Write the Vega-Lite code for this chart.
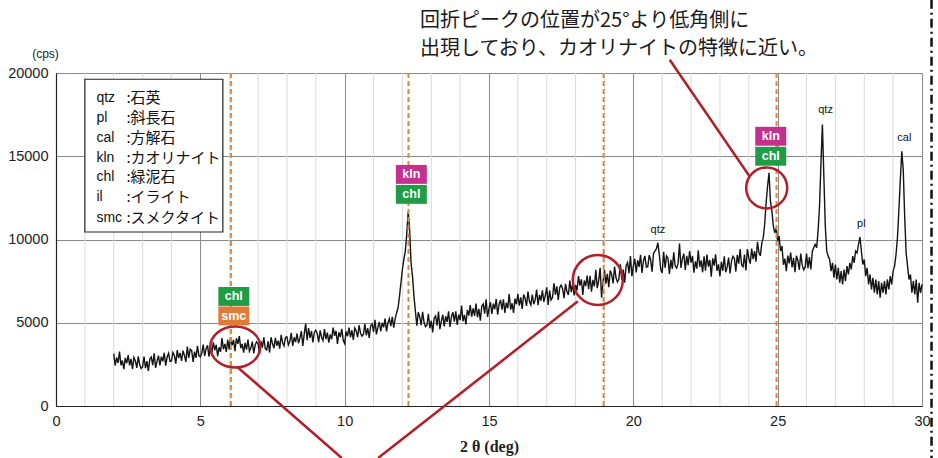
{
"$schema": "https://vega.github.io/schema/vega-lite/v6.json",
"width": 866, "height": 333,
"autosize": {"type": "none"},
"padding": {"left": 56, "top": 73, "right": 16, "bottom": 52},
"background": "white",
"config": {"view": {"stroke": "#777", "strokeWidth": 1}, "font": "Liberation Sans"},
"datasets": {
"xrd": [
{"deg":2.00,"cps":3150},{"deg":2.05,"cps":2430},{"deg":2.10,"cps":2910},{"deg":2.15,"cps":2590},{"deg":2.20,"cps":3270},{"deg":2.25,"cps":2450},{"deg":2.30,"cps":2730},{"deg":2.35,"cps":2210},{"deg":2.40,"cps":2890},{"deg":2.45,"cps":2570},
{"deg":2.50,"cps":3050},{"deg":2.55,"cps":2440},{"deg":2.60,"cps":2830},{"deg":2.65,"cps":2220},{"deg":2.70,"cps":2910},{"deg":2.75,"cps":2700},{"deg":2.80,"cps":2290},{"deg":2.85,"cps":2980},{"deg":2.90,"cps":2470},{"deg":2.95,"cps":2260},
{"deg":3.00,"cps":2350},{"deg":3.05,"cps":2965},{"deg":3.10,"cps":2280},{"deg":3.15,"cps":2695},{"deg":3.20,"cps":2110},{"deg":3.25,"cps":2825},{"deg":3.30,"cps":2940},{"deg":3.35,"cps":2455},{"deg":3.40,"cps":3170},{"deg":3.45,"cps":2285},
{"deg":3.50,"cps":2700},{"deg":3.55,"cps":3020},{"deg":3.60,"cps":2440},{"deg":3.65,"cps":2960},{"deg":3.70,"cps":2680},{"deg":3.75,"cps":3200},{"deg":3.80,"cps":2420},{"deg":3.85,"cps":2940},{"deg":3.90,"cps":3160},{"deg":3.95,"cps":2680},
{"deg":4.00,"cps":2700},{"deg":4.05,"cps":3215},{"deg":4.10,"cps":3030},{"deg":4.15,"cps":2545},{"deg":4.20,"cps":3360},{"deg":4.25,"cps":2875},{"deg":4.30,"cps":3190},{"deg":4.35,"cps":2705},{"deg":4.40,"cps":3320},{"deg":4.45,"cps":3035},
{"deg":4.50,"cps":2650},{"deg":4.55,"cps":3570},{"deg":4.60,"cps":2890},{"deg":4.65,"cps":3410},{"deg":4.70,"cps":3330},{"deg":4.75,"cps":2650},{"deg":4.80,"cps":3270},{"deg":4.85,"cps":2890},{"deg":4.90,"cps":3610},{"deg":4.95,"cps":3030},
{"deg":5.00,"cps":2950},{"deg":5.05,"cps":3170},{"deg":5.10,"cps":3690},{"deg":5.15,"cps":3010},{"deg":5.20,"cps":3430},{"deg":5.25,"cps":3650},{"deg":5.30,"cps":2970},{"deg":5.35,"cps":3590},{"deg":5.40,"cps":3210},{"deg":5.45,"cps":3830},
{"deg":5.50,"cps":3350},{"deg":5.55,"cps":3675},{"deg":5.60,"cps":3000},{"deg":5.65,"cps":3525},{"deg":5.70,"cps":3250},{"deg":5.75,"cps":4075},{"deg":5.80,"cps":3400},{"deg":5.85,"cps":3725},{"deg":5.90,"cps":3250},{"deg":5.95,"cps":3975},
{"deg":6.00,"cps":3400},{"deg":6.05,"cps":4125},{"deg":6.10,"cps":3650},{"deg":6.15,"cps":3975},{"deg":6.20,"cps":3300},{"deg":6.25,"cps":4067},{"deg":6.30,"cps":3733},{"deg":6.35,"cps":4200},{"deg":6.40,"cps":3467},{"deg":6.45,"cps":3733},
{"deg":6.50,"cps":3200},{"deg":6.55,"cps":3795},{"deg":6.60,"cps":3390},{"deg":6.65,"cps":3985},{"deg":6.70,"cps":3280},{"deg":6.75,"cps":3475},{"deg":6.80,"cps":3870},{"deg":6.85,"cps":3165},{"deg":6.90,"cps":3660},{"deg":6.95,"cps":3855},
{"deg":7.00,"cps":3750},{"deg":7.05,"cps":3170},{"deg":7.10,"cps":3890},{"deg":7.15,"cps":3510},{"deg":7.20,"cps":4130},{"deg":7.25,"cps":3450},{"deg":7.30,"cps":3370},{"deg":7.35,"cps":3890},{"deg":7.40,"cps":3210},{"deg":7.45,"cps":4130},
{"deg":7.50,"cps":3750},{"deg":7.55,"cps":3470},{"deg":7.60,"cps":4090},{"deg":7.65,"cps":3610},{"deg":7.70,"cps":3930},{"deg":7.75,"cps":3450},{"deg":7.80,"cps":4270},{"deg":7.85,"cps":3790},{"deg":7.90,"cps":3610},{"deg":7.95,"cps":4130},
{"deg":8.00,"cps":4150},{"deg":8.05,"cps":3665},{"deg":8.10,"cps":3880},{"deg":8.15,"cps":4395},{"deg":8.20,"cps":3610},{"deg":8.25,"cps":4125},{"deg":8.30,"cps":3840},{"deg":8.35,"cps":4355},{"deg":8.40,"cps":3770},{"deg":8.45,"cps":4085},
{"deg":8.50,"cps":4500},{"deg":8.55,"cps":3615},{"deg":8.60,"cps":4330},{"deg":8.65,"cps":4950},{"deg":8.70,"cps":3960},{"deg":8.75,"cps":4675},{"deg":8.80,"cps":4090},{"deg":8.85,"cps":4505},{"deg":8.90,"cps":3820},{"deg":8.95,"cps":4435},
{"deg":9.00,"cps":4550},{"deg":9.05,"cps":4345},{"deg":9.10,"cps":3840},{"deg":9.15,"cps":4535},{"deg":9.20,"cps":4130},{"deg":9.25,"cps":3925},{"deg":9.30,"cps":4620},{"deg":9.35,"cps":4015},{"deg":9.40,"cps":4410},{"deg":9.45,"cps":3805},
{"deg":9.50,"cps":4300},{"deg":9.55,"cps":4005},{"deg":9.60,"cps":4710},{"deg":9.65,"cps":4215},{"deg":9.70,"cps":4520},{"deg":9.75,"cps":3725},{"deg":9.80,"cps":4430},{"deg":9.85,"cps":4135},{"deg":9.90,"cps":4640},{"deg":9.95,"cps":3945},
{"deg":10.00,"cps":3750},{"deg":10.05,"cps":4470},{"deg":10.10,"cps":4190},{"deg":10.15,"cps":4710},{"deg":10.20,"cps":4130},{"deg":10.25,"cps":4550},{"deg":10.30,"cps":3970},{"deg":10.35,"cps":4690},{"deg":10.40,"cps":4510},{"deg":10.45,"cps":4130},
{"deg":10.50,"cps":4850},{"deg":10.55,"cps":4370},{"deg":10.60,"cps":4190},{"deg":10.65,"cps":4310},{"deg":10.70,"cps":4930},{"deg":10.75,"cps":4250},{"deg":10.80,"cps":4670},{"deg":10.85,"cps":4090},{"deg":10.90,"cps":4810},{"deg":10.95,"cps":4930},
{"deg":11.00,"cps":4450},{"deg":11.05,"cps":5175},{"deg":11.10,"cps":4300},{"deg":11.15,"cps":4725},{"deg":11.20,"cps":5050},{"deg":11.25,"cps":4475},{"deg":11.30,"cps":5000},{"deg":11.35,"cps":4725},{"deg":11.40,"cps":5250},{"deg":11.45,"cps":4475},
{"deg":11.50,"cps":5000},{"deg":11.55,"cps":5250},{"deg":11.60,"cps":4800},{"deg":11.65,"cps":5350},{"deg":11.70,"cps":4700},{"deg":11.75,"cps":5250},{"deg":11.80,"cps":5600},{"deg":11.85,"cps":5900},{"deg":11.90,"cps":6600},{"deg":11.95,"cps":7400},
{"deg":12.00,"cps":8200},{"deg":12.05,"cps":8800},{"deg":12.10,"cps":9300},{"deg":12.15,"cps":10300},{"deg":12.20,"cps":11700},{"deg":12.25,"cps":10600},{"deg":12.30,"cps":8600},{"deg":12.35,"cps":7800},{"deg":12.40,"cps":6600},{"deg":12.45,"cps":5700},
{"deg":12.50,"cps":4820},{"deg":12.55,"cps":5630},{"deg":12.60,"cps":5360},{"deg":12.65,"cps":4850},{"deg":12.70,"cps":5660},{"deg":12.75,"cps":5030},{"deg":12.80,"cps":4760},{"deg":12.85,"cps":4850},{"deg":12.90,"cps":5540},{"deg":12.95,"cps":4670},
{"deg":13.00,"cps":5120},{"deg":13.05,"cps":4415},{"deg":13.10,"cps":5270},{"deg":13.15,"cps":5405},{"deg":13.20,"cps":4820},{"deg":13.25,"cps":5675},{"deg":13.30,"cps":4610},{"deg":13.35,"cps":5105},{"deg":13.40,"cps":5480},{"deg":13.45,"cps":4775},
{"deg":13.50,"cps":5390},{"deg":13.55,"cps":5055},{"deg":13.60,"cps":5680},{"deg":13.65,"cps":4745},{"deg":13.70,"cps":5370},{"deg":13.75,"cps":5635},{"deg":13.80,"cps":5060},{"deg":13.85,"cps":5685},{"deg":13.90,"cps":4870},{"deg":13.95,"cps":5495},
{"deg":14.00,"cps":5160},{"deg":14.05,"cps":6025},{"deg":14.10,"cps":5090},{"deg":14.15,"cps":5475},{"deg":14.20,"cps":4900},{"deg":14.25,"cps":5765},{"deg":14.30,"cps":5430},{"deg":14.35,"cps":6055},{"deg":14.40,"cps":5360},{"deg":14.45,"cps":5865},
{"deg":14.50,"cps":5410},{"deg":14.55,"cps":6150},{"deg":14.60,"cps":5330},{"deg":14.65,"cps":5830},{"deg":14.70,"cps":5130},{"deg":14.75,"cps":5990},{"deg":14.80,"cps":6130},{"deg":14.85,"cps":5550},{"deg":14.90,"cps":6410},{"deg":14.95,"cps":5350},
{"deg":15.00,"cps":5850},{"deg":15.05,"cps":6230},{"deg":15.10,"cps":5530},{"deg":15.15,"cps":6150},{"deg":15.20,"cps":5810},{"deg":15.25,"cps":6430},{"deg":15.30,"cps":5490},{"deg":15.35,"cps":6110},{"deg":15.40,"cps":6370},{"deg":15.45,"cps":5790},
{"deg":15.50,"cps":6410},{"deg":15.55,"cps":5590},{"deg":15.60,"cps":6210},{"deg":15.65,"cps":5870},{"deg":15.70,"cps":6730},{"deg":15.75,"cps":5790},{"deg":15.80,"cps":6170},{"deg":15.85,"cps":5590},{"deg":15.90,"cps":6450},{"deg":15.95,"cps":6110},
{"deg":16.00,"cps":6730},{"deg":16.05,"cps":6030},{"deg":16.10,"cps":6530},{"deg":16.15,"cps":5830},{"deg":16.20,"cps":6690},{"deg":16.25,"cps":6470},{"deg":16.30,"cps":6010},{"deg":16.35,"cps":6870},{"deg":16.40,"cps":6290},{"deg":16.45,"cps":6070},
{"deg":16.50,"cps":6690},{"deg":16.55,"cps":6110},{"deg":16.60,"cps":6370},{"deg":16.65,"cps":6990},{"deg":16.70,"cps":6050},{"deg":16.75,"cps":6670},{"deg":16.80,"cps":6330},{"deg":16.85,"cps":6950},{"deg":16.90,"cps":6250},{"deg":16.95,"cps":6630},
{"deg":17.00,"cps":7130},{"deg":17.05,"cps":6075},{"deg":17.10,"cps":6940},{"deg":17.15,"cps":6365},{"deg":17.20,"cps":6510},{"deg":17.25,"cps":7375},{"deg":17.30,"cps":6680},{"deg":17.35,"cps":7185},{"deg":17.40,"cps":6370},{"deg":17.45,"cps":7115},
{"deg":17.50,"cps":7260},{"deg":17.55,"cps":7045},{"deg":17.60,"cps":6470},{"deg":17.65,"cps":7335},{"deg":17.70,"cps":6880},{"deg":17.75,"cps":6665},{"deg":17.80,"cps":7530},{"deg":17.85,"cps":6835},{"deg":17.90,"cps":7340},{"deg":17.95,"cps":6645},
{"deg":18.00,"cps":7270},{"deg":18.05,"cps":6935},{"deg":18.10,"cps":7800},{"deg":18.15,"cps":7225},{"deg":18.20,"cps":7610},{"deg":18.25,"cps":6675},{"deg":18.30,"cps":7540},{"deg":18.35,"cps":7205},{"deg":18.40,"cps":7830},{"deg":18.45,"cps":7015},
{"deg":18.50,"cps":7820},{"deg":18.55,"cps":6860},{"deg":18.60,"cps":7580},{"deg":18.65,"cps":7180},{"deg":18.70,"cps":8180},{"deg":18.75,"cps":7080},{"deg":18.80,"cps":7520},{"deg":18.85,"cps":8300},{"deg":18.90,"cps":6500},{"deg":18.95,"cps":7440},
{"deg":19.00,"cps":8160},{"deg":19.05,"cps":7350},{"deg":19.10,"cps":7940},{"deg":19.15,"cps":7130},{"deg":19.20,"cps":8140},{"deg":19.25,"cps":7890},{"deg":19.30,"cps":7360},{"deg":19.35,"cps":8370},{"deg":19.40,"cps":7700},{"deg":19.45,"cps":7450},
{"deg":19.50,"cps":7620},{"deg":19.55,"cps":8510},{"deg":19.60,"cps":7580},{"deg":19.65,"cps":8190},{"deg":19.70,"cps":7400},{"deg":19.75,"cps":8430},{"deg":19.80,"cps":8620},{"deg":19.85,"cps":7970},{"deg":19.90,"cps":9000},{"deg":19.95,"cps":7790},
{"deg":20.00,"cps":8400},{"deg":20.05,"cps":8845},{"deg":20.10,"cps":8030},{"deg":20.15,"cps":8755},{"deg":20.20,"cps":8360},{"deg":20.25,"cps":9085},{"deg":20.30,"cps":7990},{"deg":20.35,"cps":8715},{"deg":20.40,"cps":9020},{"deg":20.45,"cps":8345},
{"deg":20.50,"cps":8370},{"deg":20.55,"cps":9060},{"deg":20.60,"cps":8770},{"deg":20.65,"cps":8060},{"deg":20.70,"cps":9170},{"deg":20.75,"cps":9300},{"deg":20.80,"cps":9450},{"deg":20.85,"cps":9800},{"deg":20.90,"cps":9100},{"deg":20.95,"cps":8200},
{"deg":21.00,"cps":7990},{"deg":21.05,"cps":9265},{"deg":21.10,"cps":8300},{"deg":21.15,"cps":9015},{"deg":21.20,"cps":8890},{"deg":21.25,"cps":7925},{"deg":21.30,"cps":8780},{"deg":21.35,"cps":8235},{"deg":21.40,"cps":9230},{"deg":21.45,"cps":8405},
{"deg":21.50,"cps":8280},{"deg":21.55,"cps":8565},{"deg":21.60,"cps":9750},{"deg":21.65,"cps":8295},{"deg":21.70,"cps":8860},{"deg":21.75,"cps":9145},{"deg":21.80,"cps":8170},{"deg":21.85,"cps":9015},{"deg":21.90,"cps":8460},{"deg":21.95,"cps":9305},
{"deg":22.00,"cps":8610},{"deg":22.05,"cps":9010},{"deg":22.10,"cps":8010},{"deg":22.15,"cps":8690},{"deg":22.20,"cps":8250},{"deg":22.25,"cps":9350},{"deg":22.30,"cps":8350},{"deg":22.35,"cps":8750},{"deg":22.40,"cps":8030},{"deg":22.45,"cps":8990},
{"deg":22.50,"cps":8130},{"deg":22.55,"cps":9090},{"deg":22.60,"cps":8370},{"deg":22.65,"cps":8770},{"deg":22.70,"cps":7770},{"deg":22.75,"cps":8870},{"deg":22.80,"cps":8430},{"deg":22.85,"cps":9110},{"deg":22.90,"cps":8110},{"deg":22.95,"cps":8510},
{"deg":23.00,"cps":7790},{"deg":23.05,"cps":8655},{"deg":23.10,"cps":8120},{"deg":23.15,"cps":8985},{"deg":23.20,"cps":8030},{"deg":23.25,"cps":8335},{"deg":23.30,"cps":8920},{"deg":23.35,"cps":7965},{"deg":23.40,"cps":8690},{"deg":23.45,"cps":8995},
{"deg":23.50,"cps":8880},{"deg":23.55,"cps":8070},{"deg":23.60,"cps":9080},{"deg":23.65,"cps":8550},{"deg":23.70,"cps":9420},{"deg":23.75,"cps":8470},{"deg":23.80,"cps":8360},{"deg":23.85,"cps":9090},{"deg":23.90,"cps":8140},{"deg":23.95,"cps":9430},
{"deg":24.00,"cps":8900},{"deg":24.05,"cps":8547},{"deg":24.10,"cps":9453},{"deg":24.15,"cps":8820},{"deg":24.20,"cps":9307},{"deg":24.25,"cps":8673},{"deg":24.30,"cps":9860},{"deg":24.35,"cps":9230},{"deg":24.40,"cps":9020},{"deg":24.45,"cps":9780},
{"deg":24.50,"cps":10100},{"deg":24.55,"cps":10900},{"deg":24.60,"cps":12200},{"deg":24.65,"cps":13200},{"deg":24.70,"cps":14000},{"deg":24.75,"cps":12300},{"deg":24.80,"cps":11700},{"deg":24.85,"cps":10800},{"deg":24.90,"cps":10400},{"deg":24.95,"cps":10700},
{"deg":25.00,"cps":9900},{"deg":25.05,"cps":10200},{"deg":25.10,"cps":9300},{"deg":25.15,"cps":9600},{"deg":25.20,"cps":8480},{"deg":25.25,"cps":8850},{"deg":25.30,"cps":8100},{"deg":25.35,"cps":9030},{"deg":25.40,"cps":8560},{"deg":25.45,"cps":9210},
{"deg":25.50,"cps":8320},{"deg":25.55,"cps":8880},{"deg":25.60,"cps":8040},{"deg":25.65,"cps":9020},{"deg":25.70,"cps":8740},{"deg":25.75,"cps":8180},{"deg":25.80,"cps":9160},{"deg":25.85,"cps":8460},{"deg":25.90,"cps":8180},{"deg":25.95,"cps":8320},
{"deg":26.00,"cps":9160},{"deg":26.05,"cps":8280},{"deg":26.10,"cps":8940},{"deg":26.15,"cps":8200},{"deg":26.20,"cps":9280},{"deg":26.25,"cps":9520},{"deg":26.30,"cps":9700},{"deg":26.35,"cps":9500},{"deg":26.40,"cps":10500},{"deg":26.45,"cps":12000},
{"deg":26.50,"cps":14600},{"deg":26.55,"cps":16900},{"deg":26.60,"cps":13800},{"deg":26.65,"cps":10800},{"deg":26.70,"cps":9300},{"deg":26.75,"cps":9000},{"deg":26.80,"cps":8800},{"deg":26.85,"cps":8100},{"deg":26.90,"cps":8600},{"deg":26.95,"cps":7700},
{"deg":27.00,"cps":8500},{"deg":27.05,"cps":7600},{"deg":27.10,"cps":8300},{"deg":27.15,"cps":7400},{"deg":27.20,"cps":8100},{"deg":27.25,"cps":7300},{"deg":27.30,"cps":8200},{"deg":27.35,"cps":7500},{"deg":27.40,"cps":8400},{"deg":27.45,"cps":7900},
{"deg":27.50,"cps":8600},{"deg":27.55,"cps":8200},{"deg":27.60,"cps":9000},{"deg":27.65,"cps":8600},{"deg":27.70,"cps":9300},{"deg":27.75,"cps":9200},{"deg":27.80,"cps":9700},{"deg":27.85,"cps":10150},{"deg":27.90,"cps":9300},{"deg":27.95,"cps":8500},
{"deg":28.00,"cps":8800},{"deg":28.05,"cps":7800},{"deg":28.10,"cps":8300},{"deg":28.15,"cps":7300},{"deg":28.20,"cps":7900},{"deg":28.25,"cps":7000},{"deg":28.30,"cps":7700},{"deg":28.35,"cps":6800},{"deg":28.40,"cps":7600},{"deg":28.45,"cps":6700},
{"deg":28.50,"cps":7500},{"deg":28.55,"cps":6500},{"deg":28.60,"cps":7400},{"deg":28.65,"cps":6800},{"deg":28.70,"cps":7500},{"deg":28.75,"cps":6700},{"deg":28.80,"cps":7600},{"deg":28.85,"cps":7000},{"deg":28.90,"cps":7800},{"deg":28.95,"cps":7300},
{"deg":29.00,"cps":8100},{"deg":29.05,"cps":8400},{"deg":29.10,"cps":9100},{"deg":29.15,"cps":10100},{"deg":29.20,"cps":11800},{"deg":29.25,"cps":13600},{"deg":29.30,"cps":15300},{"deg":29.35,"cps":14200},{"deg":29.40,"cps":11400},{"deg":29.45,"cps":9200},
{"deg":29.50,"cps":8400},{"deg":29.55,"cps":7600},{"deg":29.60,"cps":7900},{"deg":29.65,"cps":6800},{"deg":29.70,"cps":7500},{"deg":29.75,"cps":6700},{"deg":29.80,"cps":7600},{"deg":29.85,"cps":6200},{"deg":29.90,"cps":7400},{"deg":29.95,"cps":6800},
{"deg":30.00,"cps":7300}
],
"minor": [{"deg":1},{"deg":2},{"deg":3},{"deg":4},{"deg":6},{"deg":7},{"deg":8},{"deg":9},{"deg":11},{"deg":12},{"deg":13},{"deg":14},{"deg":16},{"deg":17},{"deg":18},{"deg":19},{"deg":21},{"deg":22},{"deg":23},{"deg":24},{"deg":26},{"deg":27},{"deg":28},{"deg":29}],
"refs": [{"deg":6.06},{"deg":12.21},{"deg":18.97},{"deg":24.96}],
"tags": [
{"deg":6.16,"cps":6580,"tag":"chl"},{"deg":6.16,"cps":5410,"tag":"smc"},
{"deg":12.31,"cps":13910,"tag":"kln"},{"deg":12.31,"cps":12710,"tag":"chl"},
{"deg":24.76,"cps":16200,"tag":"kln"},{"deg":24.76,"cps":15000,"tag":"chl"}
],
"peaks": [
{"deg":20.85,"cps":10580,"name":"qtz"},{"deg":26.66,"cps":17790,"name":"qtz"},
{"deg":27.9,"cps":10940,"name":"pl"},{"deg":29.39,"cps":16110,"name":"cal"}
],
"legendbox": [{"deg":1.0,"deg2":5.78,"cps":19625,"cps2":10450}],
"legendrows": [
{"cps":18493,"abbr":"qtz","jp":":石英"},
{"cps":17327,"abbr":"pl","jp":":斜長石"},
{"cps":16089,"abbr":"cal","jp":":方解石"},
{"cps":14887,"abbr":"kln","jp":":カオリナイト"},
{"cps":13745,"abbr":"chl","jp":":緑泥石"},
{"cps":12580,"abbr":"il","jp":":イライト"},
{"cps":11281,"abbr":"smc","jp":":スメクタイト"}
],
"redlines": [
{"deg":6.27,"cps":2360,"deg2":9.90,"cps2":-3125},
{"deg":18.08,"cps":6290,"deg2":11.16,"cps2":-3125},
{"deg":21.26,"cps":20800,"deg2":24.03,"cps2":13780}
],
"notes": [
{"deg":12.61,"cps":23100,"txt":"回折ピークの位置が25°より低角側に"},
{"deg":12.61,"cps":21450,"txt":"出現しており、カオリナイトの特徴に近い。"}
]
},
"layer": [
{
"data": {"name": "minor"},
"mark": {"type": "rule", "color": "#dadada", "strokeWidth": 1},
"encoding": {"x": {"field": "deg", "type": "quantitative"}}
},
{
"data": {"name": "xrd"},
"mark": {"type": "line", "color": "#141414", "strokeWidth": 1.4, "interpolate": "linear"},
"encoding": {
"x": {"field": "deg", "type": "quantitative",
"scale": {"domain": [0, 30], "nice": false, "zero": false},
"axis": {"values": [0, 5, 10, 15, 20, 25, 30],
"grid": true, "gridColor": "#8a8a8a", "gridWidth": 1,
"ticks": false, "domainColor": "#222", "domainWidth": 1.2,
"labelFontSize": 14.5, "labelColor": "#222", "labelPadding": 8, "labelFlush": false, "labelOverlap": false,
"title": "2 θ (deg)", "titleFont": "Liberation Serif", "titleFontSize": 16, "titleFontWeight": "bold", "titleColor": "#222", "titlePadding": 11}},
"y": {"field": "cps", "type": "quantitative",
"scale": {"domain": [0, 20000], "nice": false},
"axis": {"values": [0, 5000, 10000, 15000, 20000], "format": "d",
"grid": true, "gridColor": "#8a8a8a", "gridWidth": 1,
"ticks": false, "domainColor": "#222", "domainWidth": 1.2,
"labelFontSize": 14.5, "labelColor": "#222", "labelPadding": 8,
"title": "(cps)", "titleAngle": 0, "titleAlign": "center", "titleBaseline": "middle",
"titleX": -11, "titleY": -20, "titleFontSize": 12, "titleFontWeight": "normal", "titleColor": "#222"}}
}
},
{
"data": {"name": "refs"},
"mark": {"type": "rule", "color": "#e2872c", "strokeWidth": 2, "strokeDash": [5, 3]},
"encoding": {"x": {"field": "deg", "type": "quantitative"}}
},
{
"data": {"name": "tags"},
"mark": {"type": "point", "shape": "M-1,-0.61H1V0.61H-1Z", "size": 961, "filled": true, "opacity": 1, "strokeWidth": 0},
"encoding": {
"x": {"field": "deg", "type": "quantitative"},
"y": {"field": "cps", "type": "quantitative"},
"color": {"field": "tag", "type": "nominal", "legend": null,
"scale": {"domain": ["chl", "smc", "kln"], "range": ["#1f9c45", "#e07c3a", "#c5308d"]}}
}
},
{
"data": {"name": "tags"},
"mark": {"type": "text", "fill": "white", "fontSize": 12.5, "fontWeight": "bold", "baseline": "middle", "align": "center"},
"encoding": {
"x": {"field": "deg", "type": "quantitative"},
"y": {"field": "cps", "type": "quantitative"},
"text": {"field": "tag"}
}
},
{
"data": {"name": "peaks"},
"mark": {"type": "text", "fill": "#111111", "fontSize": 11, "baseline": "middle", "align": "center"},
"encoding": {
"x": {"field": "deg", "type": "quantitative"},
"y": {"field": "cps", "type": "quantitative"},
"text": {"field": "name"}
}
},
{
"data": {"name": "legendbox"},
"mark": {"type": "rect", "fill": "white", "stroke": "#222", "strokeWidth": 1.2},
"encoding": {
"x": {"field": "deg", "type": "quantitative"},
"x2": {"field": "deg2"},
"y": {"field": "cps", "type": "quantitative"},
"y2": {"field": "cps2"}
}
},
{
"data": {"name": "legendrows"},
"mark": {"type": "text", "fill": "#111111", "fontSize": 14, "baseline": "middle", "align": "left", "font": "Liberation Sans"},
"encoding": {
"x": {"datum": 1.4, "type": "quantitative"},
"y": {"field": "cps", "type": "quantitative"},
"text": {"field": "abbr"}
}
},
{
"data": {"name": "legendrows"},
"mark": {"type": "text", "fill": "#111111", "fontSize": 15, "baseline": "middle", "align": "left", "font": "Noto Sans CJK JP"},
"encoding": {
"x": {"datum": 2.44, "type": "quantitative"},
"y": {"field": "cps", "type": "quantitative"},
"text": {"field": "jp"}
}
},
{
"data": {"name": "redlines"},
"mark": {"type": "rule", "color": "#b0202a", "strokeWidth": 2.5},
"encoding": {
"x": {"field": "deg", "type": "quantitative"},
"x2": {"field": "deg2"},
"y": {"field": "cps", "type": "quantitative"},
"y2": {"field": "cps2"}
}
},
{
"data": {"values": [{"deg": 6.21, "cps": 3546}]},
"mark": {"type": "point", "shape": "M-1,0A1,0.82,0,1,0,1,0A1,0.82,0,1,0,-1,0Z", "size": 2500, "filled": false, "color": "#b0202a", "strokeWidth": 2.5, "opacity": 1},
"encoding": {
"x": {"field": "deg", "type": "quantitative"},
"y": {"field": "cps", "type": "quantitative"}
}
},
{
"data": {"values": [{"deg": 18.77, "cps": 7572}]},
"mark": {"type": "point", "shape": "circle", "size": 2500, "filled": false, "color": "#b0202a", "strokeWidth": 2.5, "opacity": 1},
"encoding": {
"x": {"field": "deg", "type": "quantitative"},
"y": {"field": "cps", "type": "quantitative"}
}
},
{
"data": {"values": [{"deg": 24.62, "cps": 13100}]},
"mark": {"type": "point", "shape": "circle", "size": 1681, "filled": false, "color": "#b0202a", "strokeWidth": 2.5, "opacity": 1},
"encoding": {
"x": {"field": "deg", "type": "quantitative"},
"y": {"field": "cps", "type": "quantitative"}
}
},
{
"data": {"name": "notes"},
"mark": {"type": "text", "fill": "#1a1a1a", "fontSize": 20, "baseline": "middle", "align": "left", "font": "Noto Sans CJK JP"},
"encoding": {
"x": {"field": "deg", "type": "quantitative"},
"y": {"field": "cps", "type": "quantitative"},
"text": {"field": "txt"}
}
},
{
"data": {"values": [{"deg": 30.33}]},
"mark": {"type": "rule", "color": "#111", "strokeWidth": 2.5, "strokeDash": [9, 4, 2, 4]},
"encoding": {
"x": {"field": "deg", "type": "quantitative"},
"y": {"datum": 24400, "type": "quantitative"},
"y2": {"datum": -3125}
}
}
]
}
